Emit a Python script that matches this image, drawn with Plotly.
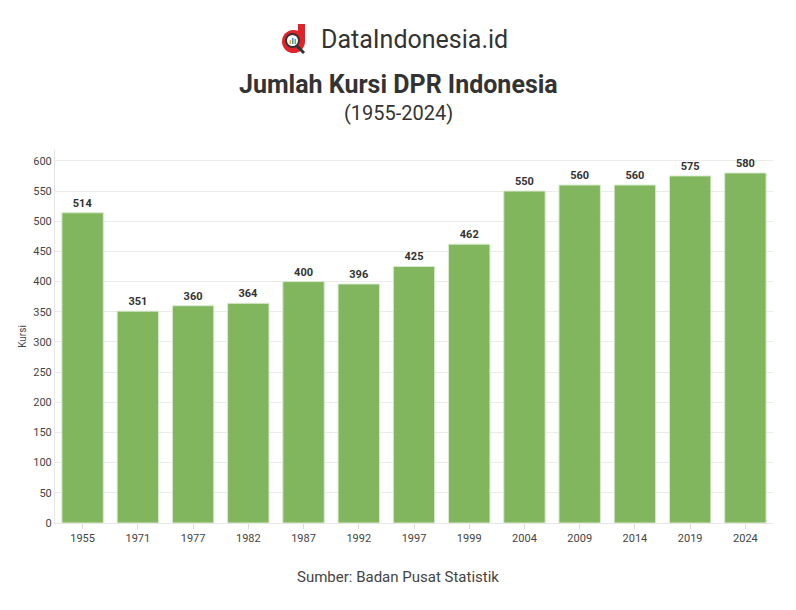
import plotly.graph_objects as go

years = ["1955", "1971", "1977", "1982", "1987", "1992", "1997", "1999",
         "2004", "2009", "2014", "2019", "2024"]
seats = [514, 351, 360, 364, 400, 396, 425, 462, 550, 560, 560, 575, 580]

FONT = "Roboto"
L, R, T, B, W, H = 55, 23, 150, 87, 796, 610
PW, PH = W - L - R, H - T - B

def px(x):
    return (x - L) / PW

def py(y):
    return (H - B - y) / PH

fig = go.Figure()
fig.add_trace(go.Bar(
    x=years, y=seats,
    marker=dict(color="rgba(118,176,80,0.92)", line=dict(color="#d9ebcd", width=1)),
    text=[str(v) for v in seats], textposition="outside",
    textfont=dict(family=FONT, size=11, color="#333333", weight="bold"),
    cliponaxis=False,
))

fig.update_layout(
    width=W, height=H,
    margin=dict(l=L, r=R, t=T, b=B),
    paper_bgcolor="white", plot_bgcolor="white",
    bargap=0.25,
    showlegend=False,
    font=dict(family=FONT, color="#444444"),
    xaxis=dict(type="category", showgrid=False, ticks="outside", ticklen=5,
               tickcolor="#dddddd", tickfont=dict(size=11, color="#444444"),
               showline=True, linecolor="#e6e6e6"),
    yaxis=dict(range=[0, 618], dtick=50, gridcolor="#ebebeb", zeroline=False,
               showline=True, linecolor="#e6e6e6",
               tickfont=dict(size=11, color="#444444"),
               title=dict(text="Kursi", font=dict(size=10, color="#444444"), standoff=4)),
)

anns = [
    dict(text="<b>Jumlah Kursi DPR Indonesia</b>", x=398, y=84, font=dict(size=25, color="#333333")),
    dict(text="(1955-2024)", x=398, y=113, font=dict(size=20, color="#333333")),
    dict(text="DataIndonesia.id", x=414, y=39, font=dict(size=25, color="#333333")),
    dict(text="Sumber: Badan Pusat Statistik", x=398, y=577, font=dict(size=15, color="#444444")),
]
for a in anns:
    fig.add_annotation(xref="paper", yref="paper", x=px(a.pop("x")), y=py(a.pop("y")),
                       showarrow=False, xanchor="center", yanchor="middle", **a)

# logo built from shapes
def shp(kind, x0, y0, x1, y1, **kw):
    fig.add_shape(type=kind, xref="paper", yref="paper",
                  x0=px(x0), x1=px(x1), y0=py(y0), y1=py(y1), **kw)

RED = "#e0242b"
shp("rect", 298, 24, 305, 42, fillcolor=RED, line=dict(width=0))
shp("circle", 282, 30, 305, 53, fillcolor=RED, line=dict(width=0))
shp("line", 296, 45, 304, 53, line=dict(color="#333333", width=3))
shp("circle", 286, 34, 299, 47, fillcolor="white", line=dict(color="#333333", width=2))
shp("rect", 289.5, 40, 291, 44, fillcolor="#f2b01e", line=dict(width=0))
shp("rect", 292, 38, 293.5, 44, fillcolor="#3a8fd8", line=dict(width=0))
shp("rect", 294.5, 39, 296, 44, fillcolor="#6ab04c", line=dict(width=0))

fig.write_html("out.html")
